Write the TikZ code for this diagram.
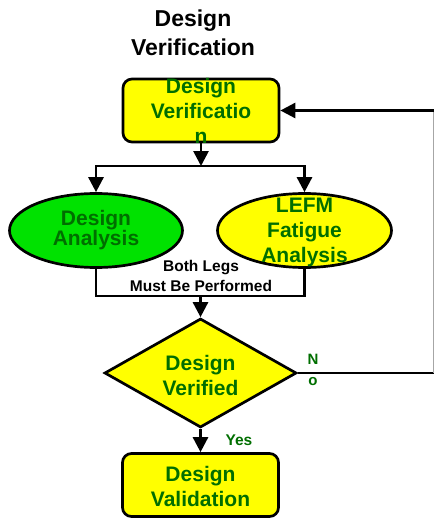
\documentclass[tikz,border=0pt]{standalone}
\usepackage{fontspec}
\setmainfont{Liberation Sans}
\usetikzlibrary{shapes.geometric,arrows.meta}
\definecolor{txtgreen}{RGB}{0,110,0}
\definecolor{fillgreen}{RGB}{0,226,0}
\definecolor{fillyellow}{RGB}{255,255,0}
\begin{document}
\begin{tikzpicture}[x=1pt,y=-1pt,
 conn/.style={line width=2.7pt},
 arr/.style={conn,-{Triangle[width=15pt,length=15pt]}},
 box/.style={draw,line width=2.7pt,fill=fillyellow,rounded corners=9pt,minimum width=156pt,minimum height=63pt,inner sep=0pt},
 ell/.style={draw,ellipse,line width=2.7pt,minimum width=173pt,minimum height=74pt,inner sep=0pt},
 dia/.style={draw,diamond,line width=2.7pt,fill=fillyellow,minimum width=192pt,minimum height=109pt,inner sep=0pt},
 big/.style={font=\bfseries\fontsize{21}{25}\selectfont,text=txtgreen,align=center,inner sep=0pt},
 small/.style={font=\bfseries\fontsize{15.5}{20}\selectfont,align=center,inner sep=0pt}]
\useasboundingbox (0,0) rectangle (434,519);
\node[font=\bfseries\fontsize{23}{29}\selectfont,align=center,inner sep=0pt] (title) at (193,33) {Design\\Verification};
\node[box] (top) at (201,110.5) {};
\node[big] (toplbl) at (201,111) {Design\\Verificatio\\n};
\node[ell,fill=fillgreen] (left) at (96,230.5) {};
\node[ell,fill=fillyellow,minimum width=174pt] (right) at (304.5,230.5) {};
\node[big,font=\bfseries\fontsize{21}{20}\selectfont] (leftlbl) at (96,230) {Design\\Analysis};
\node[big] (rightlbl) at (304.5,232) {LEFM\\Fatigue\\Analysis};
\coordinate (j1) at (201,166);
\draw[arr] (top.south) -- (j1);
\draw[arr] (j1) -| (left.north);
\draw[arr] (j1) -| (right.north);
\node[small] (legs) at (201,276) {Both Legs\\Must Be Performed};
\coordinate (j2) at (200.5,296);
\draw[conn] (left.south) |- (j2) -| (right.south);
\node[dia] (dia) at (200.5,373) {};
\node[big] (dialbl) at (200.5,375) {Design\\Verified};
\draw[arr] (j2) -- (dia.north);
\coordinate (rb) at (433.5,373);
\coordinate (rt) at (433.5,110.5);
\draw[conn] (dia.east) -- (rb);
\draw[line width=1pt,gray!70] (rb) -- (rt);
\draw[arr] (rt) -- (top.east);
\node[small,text=txtgreen,font=\bfseries\fontsize{15}{21}\selectfont] (no) at (313,370) {N\\o};
\node[box] (bot) at (200.5,485) {};
\node[big] (botlbl) at (200.5,486.5) {Design\\Validation};
\draw[arr] (dia.south) -- (bot.north);
\node[small,text=txtgreen] (yes) at (239,440) {Yes};
\end{tikzpicture}
\end{document}
